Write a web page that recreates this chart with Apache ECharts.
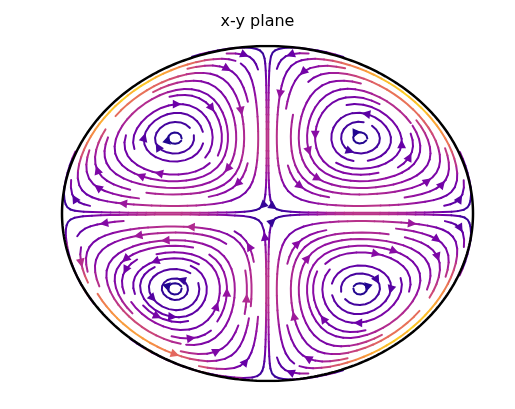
<!DOCTYPE html>
<html><head><meta charset="utf-8">
<script src="https://cdn.jsdelivr.net/npm/echarts@6/dist/echarts.min.js"></script>
<style>html,body{margin:0;padding:0;background:#fff}#c{width:515px;height:409px}</style>
</head><body><div id="c"></div>
<script>
// ---- data ----
const titleText = ['x-y plane'];
const gridRange = [-1, 1];          // x and y extent of the velocity grid
const gridSize = [100, 100];        // grid points in x, y
const streamCoef = [1, -1.309, 1.0]; // psi = x*y*(1-r^2)*(c0 + c1*r^2 + c2*r^4)
const boundaryRadius = [1];         // circular wall; flow is zero outside
const density = [1.55];
const plasmaStops = ['#0d0887','#41049d','#6a00a8','#8f0da4','#b12a90','#cc4778','#e16462','#f2844b','#fca636','#fcce25','#f0f921'];

// ---- velocity field on the grid ----
const NX = gridSize[0], NY = gridSize[1];
const X0 = gridRange[0], Y0 = gridRange[0];
const DX = (gridRange[1]-gridRange[0])/(NX-1), DY = (gridRange[1]-gridRange[0])/(NY-1);
const U = new Float64Array(NX*NY), V = new Float64Array(NX*NY), C = new Float64Array(NX*NY);
const R2 = boundaryRadius[0]*boundaryRadius[0];
for (let j=0;j<NY;j++) for (let i=0;i<NX;i++){
  const x = X0+i*DX, y = Y0+j*DY, q = x*x+y*y;
  let u=0, v=0;
  if (q <= R2){
    const [c0,c1,c2] = streamCoef;
    const p = c0 + c1*q + c2*q*q, pp = c1 + 2*c2*q;
    const g = (1-q)*p, gp = -p + (1-q)*pp;
    u = x*(g + 2*y*y*gp);
    v = -y*(g + 2*x*x*gp);
  }
  const k = j*NX+i; U[k]=u; V[k]=v; C[k]=Math.hypot(u,v);
}
const UG = new Float64Array(NX*NY), VG = new Float64Array(NX*NY), SP = new Float64Array(NX*NY);
for (let k=0;k<NX*NY;k++){ UG[k]=U[k]/DX; VG[k]=V[k]/DY; SP[k]=Math.hypot(UG[k]/(NX-1), VG[k]/(NY-1)); }

function interp(a, xi, yi){
  const x = Math.trunc(xi), y = Math.trunc(yi);
  const xn = x >= NX-1 ? NX-1 : x+1, yn = y >= NY-1 ? NY-1 : y+1;
  const a00=a[y*NX+x], a01=a[y*NX+xn], a10=a[yn*NX+x], a11=a[yn*NX+xn];
  const xt=xi-x, yt=yi-y;
  const A0=a00*(1-xt)+a01*xt, A1=a10*(1-xt)+a11*xt;
  return A0*(1-yt)+A1*yt;
}
function within(xi, yi){ return xi>=0 && xi<=NX-1 && yi>=0 && yi<=NY-1; }
const OOB='oob', TERM='term', INVALID='invalid';
function f(xi, yi, sign){
  if (!within(xi,yi)) throw OOB;
  const s = interp(SP, xi, yi);
  if (s === 0) throw TERM;
  return [sign*interp(UG,xi,yi)/s, sign*interp(VG,xi,yi)/s];
}
function pyRound(v){ const fl=Math.floor(v), d=v-fl; if (d>0.5) return fl+1; if (d<0.5) return fl; return fl%2===0?fl:fl+1; }

// ---- stream mask ----
const MX = Math.floor(30*density[0]), MY = Math.floor(30*density[0]);
const mask = new Uint8Array(MX*MY);
let trajCells = [], cur = null;
function g2m(xg, yg){ return [pyRound(xg*(MX-1)/(NX-1)), pyRound(yg*(MY-1)/(NY-1))]; }
function maskUpdate(xm, ym){
  if (!cur || cur[0]!==xm || cur[1]!==ym){
    if (mask[ym*MX+xm]===0){ trajCells.push(ym*MX+xm); mask[ym*MX+xm]=1; cur=[xm,ym]; }
    else throw INVALID;
  }
}
function gridUpdate(xg, yg){ if (!within(xg,yg)) throw INVALID; const m=g2m(xg,yg); maskUpdate(m[0],m[1]); }

const maxlength = 4.0, minlength = 0.1;
function eulerStep(pts, sign){
  const [xi, yi] = pts[pts.length-1];
  const [cx, cy] = f(xi, yi, sign);
  let dsx = cx===0?Infinity:(cx<0? xi/-cx : (NX-1-xi)/cx);
  let dsy = cy===0?Infinity:(cy<0? yi/-cy : (NY-1-yi)/cy);
  const ds = Math.min(dsx, dsy);
  pts.push([xi+cx*ds, yi+cy*ds]);
  return ds;
}
function rk12(xs, ys, sign){
  const maxerror=0.003, maxds=Math.min(1/MX, 1/MY, 0.1);
  let ds=maxds, stotal=0, xi=xs, yi=ys; const pts=[];
  let guard = 0;
  while (guard++ < 200000){
    let k1, k2;
    try {
      if (within(xi,yi)) pts.push([xi,yi]); else throw OOB;
      k1 = f(xi,yi,sign); k2 = f(xi+ds*k1[0], yi+ds*k1[1], sign);
    } catch(e){
      if (e===OOB){ if (pts.length){ try { stotal += eulerStep(pts, sign); } catch(e2){} } break; }
      if (e===TERM) break;
      throw e;
    }
    const dx1=ds*k1[0], dy1=ds*k1[1];
    const dx2=ds*0.5*(k1[0]+k2[0]), dy2=ds*0.5*(k1[1]+k2[1]);
    const err = Math.hypot((dx2-dx1)/(NX-1), (dy2-dy1)/(NY-1));
    if (err < maxerror){
      xi+=dx2; yi+=dy2;
      try { gridUpdate(xi,yi); } catch(e){ if (e===INVALID) break; throw e; }
      if (stotal+ds > maxlength) break;
      stotal += ds;
    }
    ds = err===0 ? maxds : Math.min(maxds, 0.85*ds*Math.sqrt(maxerror/err));
  }
  return [stotal, pts];
}
function integrate(x0, y0){
  trajCells = [];
  const m = g2m(x0,y0);
  try { maskUpdate(m[0], m[1]); } catch(e){ return null; }
  let stotal = 0, out = [];
  const b = rk12(x0, y0, -1); stotal += b[0]; out = b[1].slice().reverse();
  cur = g2m(x0,y0);
  const fw = rk12(x0, y0, 1); stotal += fw[0]; out = out.concat(fw[1].slice(1));
  if (stotal > minlength) return out;
  for (const t of trajCells) mask[t]=0;
  return null;
}
function* startPoints(nx, ny){
  let xfirst=0, yfirst=1, xlast=nx-1, ylast=ny-1, x=0, y=0, dir='right';
  for (let i=0;i<nx*ny;i++){
    yield [x,y];
    if (dir==='right'){ x++; if (x>=xlast){ xlast--; dir='up'; } }
    else if (dir==='up'){ y++; if (y>=ylast){ ylast--; dir='left'; } }
    else if (dir==='left'){ x--; if (x<=xfirst){ xfirst++; dir='down'; } }
    else { y--; if (y<=yfirst){ yfirst++; dir='right'; } }
  }
}
const trajs = [];
for (const [xm, ym] of startPoints(MX, MY)){
  if (mask[ym*MX+xm]===0){
    const t = integrate(xm*(NX-1)/(MX-1), ym*(NY-1)/(MY-1));
    if (t) trajs.push(t);
  }
}
let cmin=Infinity, cmax=-Infinity; for (const v of C){ if(v<cmin)cmin=v; if(v>cmax)cmax=v; }
function hexRgb(h){ return [parseInt(h.slice(1,3),16), parseInt(h.slice(3,5),16), parseInt(h.slice(5,7),16)]; }
const stopsRgb = plasmaStops.map(hexRgb);
function lutIndex(v){ const t=(v-cmin)/(cmax-cmin); return Math.max(0, Math.min(255, Math.floor(t*256))); }
function plasma(idx){
  const p = idx/255*(stopsRgb.length-1); const i=Math.min(stopsRgb.length-2, Math.floor(p)); const fr=p-i;
  const a=stopsRgb[i], b=stopsRgb[i+1];
  return 'rgb('+[0,1,2].map(k=>Math.round(a[k]+(b[k]-a[k])*fr)).join(',')+')';
}
const lines = trajs.map(t=>{
  const tx = t.map(p=>X0+p[0]*DX), ty = t.map(p=>Y0+p[1]*DY);
  const cv = []; for (let i=0;i<t.length-1;i++) cv.push(lutIndex(interp(C, t[i][0], t[i][1])));
  const s=[]; let acc=0; for (let i=0;i<tx.length-1;i++){ acc+=Math.hypot(tx[i+1]-tx[i], ty[i+1]-ty[i]); s.push(acc); }
  const half = acc/2; let n=0; while (n<s.length && s[n]<half) n++;
  if (n > tx.length-2) n = tx.length-2;
  return {tx, ty, cv, n};
});

const chart = echarts.init(document.getElementById('c'), null, {renderer:'canvas'});
function renderItem(params, api){
  const L = lines[params.dataIndex];
  const P = L.tx.map((x,i)=>api.coord([x, L.ty[i]]));
  const children = [];
  let runStart = 0;
  for (let i=1;i<=L.cv.length;i++){
    if (i===L.cv.length || (L.cv[i]>>2)!==(L.cv[runStart]>>2)){
      children.push({type:'polyline', shape:{points:P.slice(runStart, i+1)},
        style:{stroke:plasma(L.cv[runStart]), lineWidth:2, fill:null, lineJoin:'round', lineCap:'round'}, silent:true});
      runStart = i;
    }
  }
  const n = L.n;
  const tail = P[n];
  const head = [(P[n][0]+P[n+1][0])/2, (P[n][1]+P[n+1][1])/2];
  let ddx = head[0]-tail[0], ddy = head[1]-tail[1];
  let k = n+1;
  while (Math.hypot(ddx,ddy) < 1e-6 && k < P.length-1){ ddx = P[k+1][0]-P[k][0]; ddy = P[k+1][1]-P[k][1]; k++; }
  const len = Math.hypot(ddx,ddy) || 1; const ux=ddx/len, uy=ddy/len, px=-uy, py=ux;
  const hl = 5.6, hw = 2.8;
  const col = plasma(L.cv[Math.min(n, L.cv.length-1)]);
  children.push({type:'polygon', shape:{points:[[head[0],head[1]],[head[0]-ux*hl+px*hw, head[1]-uy*hl+py*hw],[head[0]-ux*hl-px*hw, head[1]-uy*hl-py*hw]]},
    style:{fill:col, stroke:col, lineWidth:2, lineJoin:'miter'}, silent:true});
  return {type:'group', children};
}
const circlePts = [];
for (let a=0;a<=360;a++){ const r=a*Math.PI/180; circlePts.push([boundaryRadius[0]*Math.cos(r), boundaryRadius[0]*Math.sin(r)]); }

chart.setOption({
  animation:false,
  title:{text:titleText[0], left:'center', top:9, textStyle:{fontFamily:'DejaVu Sans', fontSize:16, fontWeight:'normal', color:'#000'}},
  grid:{left:62, right:42, top:46, bottom:28},
  xAxis:{type:'value', min:gridRange[0], max:gridRange[1], show:false},
  yAxis:{type:'value', min:gridRange[0], max:gridRange[1], show:false},
  series:[
    {type:'custom', renderItem, data: lines.map((L,i)=>[L.tx[L.n], L.ty[L.n], i]), encode:{x:0,y:1}, clip:false, silent:true, z:2},
    {type:'line', data:circlePts, showSymbol:false, symbol:'none', lineStyle:{color:'#000', width:2.5}, silent:true, z:3}
  ]
});
</script></body></html>
